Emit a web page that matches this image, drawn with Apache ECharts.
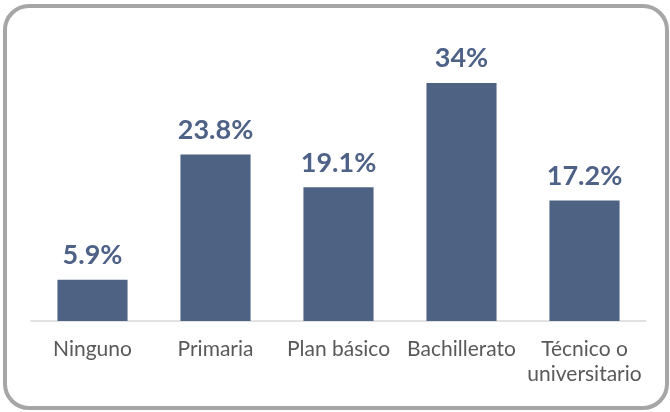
<!DOCTYPE html>
<html>
<head>
<meta charset="utf-8">
<script src="https://cdn.jsdelivr.net/npm/echarts@6/dist/echarts.min.js"></script>
<style>
  html, body { margin: 0; padding: 0; background: #fff; }
  #chart { width: 670px; height: 412px; }
</style>
</head>
<body>
<div id="chart"></div>
<script>
var categories = ['Ninguno', 'Primaria', 'Plan básico', 'Bachillerato', 'Técnico o\nuniversitario'];
var values = [5.9, 23.8, 19.1, 34, 17.2];

var myChart = echarts.init(document.getElementById('chart'));

var option = {
    animation: false,
    graphic: [
        {
            type: 'rect',
            shape: { x: 5, y: 6, width: 662, height: 402, r: 24 },
            style: { fill: 'none', stroke: '#a6a6a6', lineWidth: 4 },
            silent: true
        }
    ],
    grid: { left: 31, right: 24, top: 41, bottom: 91 },
    xAxis: {
        type: 'category',
        data: categories,
        axisLine: { lineStyle: { color: '#d9d9d9', width: 1.5 } },
        axisTick: { show: false },
        axisLabel: {
            color: '#595959',
            fontFamily: 'Lato',
            fontSize: 21,
            lineHeight: 25,
            margin: 16,
            interval: 0
        }
    },
    yAxis: {
        type: 'value',
        min: 0,
        max: 40,
        show: false,
        splitLine: { show: false }
    },
    series: [
        {
            type: 'bar',
            data: values,
            barWidth: '57%',
            itemStyle: { color: '#4e6384' },
            label: {
                show: true,
                position: 'top',
                distance: 11,
                formatter: '{c}%',
                color: '#4e6186',
                fontFamily: 'Lato',
                fontWeight: 'bold',
                fontSize: 27
            }
        }
    ]
};

myChart.setOption(option);
</script>
</body>
</html>
